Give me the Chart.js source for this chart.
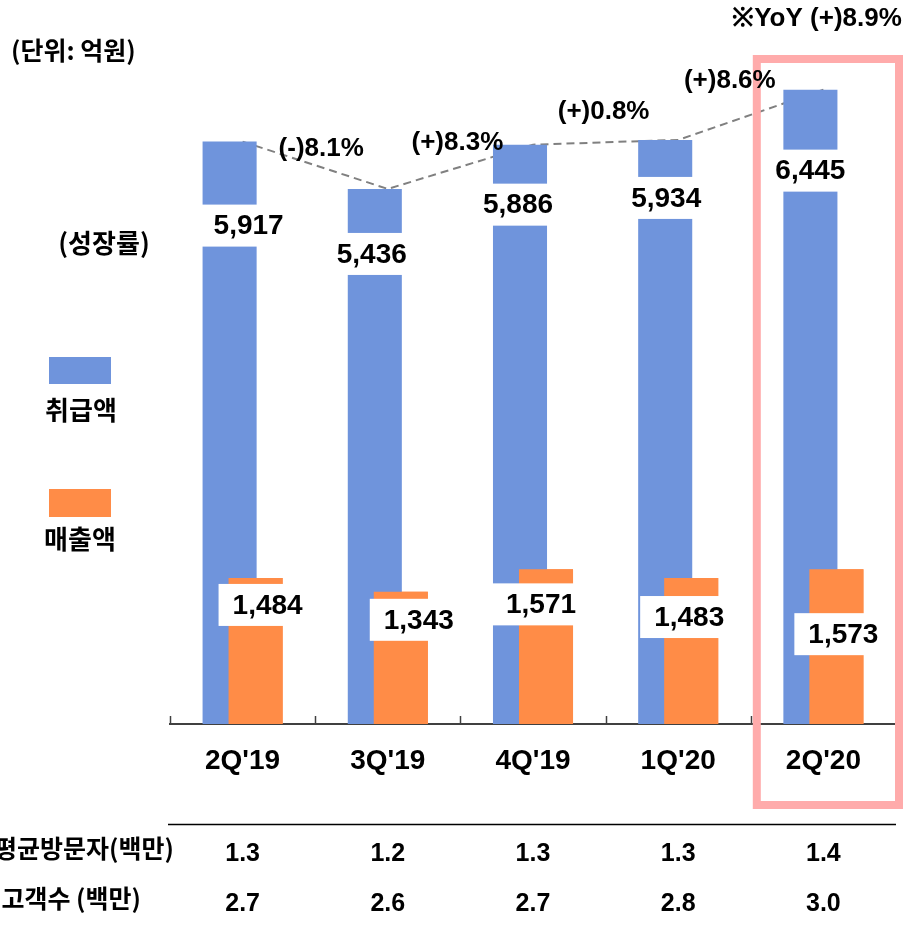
<!DOCTYPE html>
<html><head><meta charset="utf-8">
<script src="https://cdn.jsdelivr.net/npm/chart.js@4.4.1/dist/chart.umd.min.js"></script>
<style>html,body{margin:0;padding:0;background:#fff;}#wrap{position:relative;width:905px;height:926px;}</style>
</head><body><div id="wrap"><canvas id="c" width="905" height="926"></canvas></div>
<script>
// ---- data ----
const categories = ["2Q'19", "3Q'19", "4Q'19", "1Q'20", "2Q'20"];
const grossSales = [5917, 5436, 5886, 5934, 6445];   // 취급액 (억원)
const revenue    = [1484, 1343, 1571, 1483, 1573];   // 매출액 (억원)
const visitors   = ["1.3", "1.2", "1.3", "1.3", "1.4"]; // 평균방문자(백만)
const customers  = ["2.7", "2.6", "2.7", "2.8", "3.0"]; // 고객수 (백만)
const seriesNames = ["취급액", "매출액"];
const rowNames = ["평균방문자(백만)", "고객수 (백만)"];
const yMax = 7000;

// ---- label placement (style) ----
const blueLabelDrop  = [84, 65, 60, 58, 81];
const blueLabelShift = [19, -3, -2, 1, 0];
const orgLabelDrop   = [27, 28, 35, 39, 65];
const orgLabelShift  = [12, 18, -5, -2, 7];
const growthNudge    = [[6, -16], [-3, -24], [-2, -30], [-21, -34]];

const BLUE = '#6F94DC', ORANGE = '#FF8C47', PINK = '#FFABAB';
const NUM = '"Liberation Sans", Arial, sans-serif';
const KR = '"Noto Sans CJK KR", "Noto Sans", sans-serif';
const KRW = 'bold ';

const fmtNum = v => v.toLocaleString('en-US');
const fmtPct = r => (r < 0 ? '(-)' : '(+)') + Math.abs(r * 100).toFixed(1) + '%';
const growth = grossSales.slice(1).map((v, i) => fmtPct(v / grossSales[i] - 1));
const yoy = fmtPct(grossSales[4] / grossSales[0] - 1);

function boxText(ctx, text, cx, cy, font) {
  ctx.font = font;
  const w = ctx.measureText(text).width + 28, h = 42;
  ctx.fillStyle = '#fff';
  ctx.fillRect(cx - w / 2, cy - h / 2, w, h);
  ctx.fillStyle = '#000';
  ctx.textAlign = 'center'; ctx.textBaseline = 'middle';
  ctx.fillText(text, cx, cy + 1);
}
function txt(ctx, text, x, y, font, align) {
  ctx.font = font; ctx.fillStyle = '#000';
  ctx.textAlign = align || 'center'; ctx.textBaseline = 'middle';
  ctx.fillText(text, x, y);
}

// orange bars sit to the right of blue but are painted over them
const orangeOnTop = {
  id: 'orangeOnTop',
  afterDatasetsDraw(chart) {
    const ctx = chart.ctx, a = chart.chartArea;
    ctx.save();
    ctx.beginPath(); ctx.rect(a.left, a.top - 2, a.right - a.left, a.bottom - a.top + 2); ctx.clip();
    chart.getDatasetMeta(1).controller.draw();
    ctx.restore();
  }
};

const overlay = {
  id: 'overlay',
  afterDraw(chart) {
    const ctx = chart.ctx, xs = chart.scales.x, area = chart.chartArea;
    const cw = xs.width / categories.length;
    ctx.save();
    // inner tick marks at category boundaries
    ctx.strokeStyle = '#404040'; ctx.lineWidth = 1.5;
    for (let i = 0; i <= categories.length; i++) {
      const bx = Math.round(xs.left + i * cw) + 0.5;
      ctx.beginPath(); ctx.moveTo(bx, area.bottom); ctx.lineTo(bx, area.bottom - 8); ctx.stroke();
    }
    // highlight box
    const hl = xs.left + 4 * cw;
    ctx.strokeStyle = PINK; ctx.lineWidth = 8;
    ctx.strokeRect(hl + 6, 59, chart.width - 6 - (hl + 6), 746);
    // blue value labels
    chart.getDatasetMeta(0).data.forEach((el, i) => {
      boxText(ctx, fmtNum(grossSales[i]), el.x + blueLabelShift[i], el.y + blueLabelDrop[i], 'bold 28px ' + NUM);
    });
    // orange value labels
    chart.getDatasetMeta(1).data.forEach((el, i) => {
      boxText(ctx, fmtNum(revenue[i]), el.x + orgLabelShift[i], el.y + orgLabelDrop[i], 'bold 28px ' + NUM);
    });
    // growth labels
    const pts = chart.getDatasetMeta(2).data;
    growth.forEach((g, i) => {
      const mx = (pts[i].x + pts[i + 1].x) / 2, my = (pts[i].y + pts[i + 1].y) / 2;
      txt(ctx, g, mx + growthNudge[i][0], my + growthNudge[i][1], 'bold 26px ' + NUM);
    });
    txt(ctx, '※YoY ' + yoy, 817, 19, 'bold 26px ' + NUM);
    // unit / titles
    txt(ctx, '(단위: 억원)', 11, 50, KRW + '25px ' + KR, 'left');
    txt(ctx, '(성장률)', 104, 243, KRW + '26px ' + KR);
    // legend
    ctx.fillStyle = BLUE; ctx.fillRect(49, 357, 62, 27);
    txt(ctx, seriesNames[0], 81, 410, KRW + '26px ' + KR);
    ctx.fillStyle = ORANGE; ctx.fillRect(49, 489, 62, 28);
    txt(ctx, seriesNames[1], 80, 539, KRW + '26px ' + KR);
    // table
    ctx.strokeStyle = '#000'; ctx.lineWidth = 1.5;
    ctx.beginPath(); ctx.moveTo(168, 824.5); ctx.lineTo(xs.right, 824.5); ctx.stroke();
    txt(ctx, rowNames[0], 174, 848, KRW + '25px ' + KR, 'right');
    txt(ctx, rowNames[1], 141, 898, KRW + '25px ' + KR, 'right');
    categories.forEach((c, i) => {
      const cx = xs.getPixelForValue(i);
      txt(ctx, visitors[i], cx, 854, 'bold 25px ' + NUM);
      txt(ctx, customers[i], cx, 904, 'bold 25px ' + NUM);
    });
    ctx.restore();
  }
};

new Chart(document.getElementById('c'), {
  type: 'bar',
  data: {
    labels: categories,
    datasets: [
      { label: seriesNames[0], data: grossSales, backgroundColor: BLUE, order: 1,
        categoryPercentage: 0.358, barPercentage: 2.08 },
      { label: seriesNames[1], data: revenue, backgroundColor: ORANGE, order: 2,
        categoryPercentage: 0.358, barPercentage: 2.08 },
      { type: 'line', label: 'growth', data: grossSales, borderColor: '#808080', borderWidth: 2,
        borderDash: [8, 5], pointRadius: 0, fill: false, tension: 0, order: 3 }
    ]
  },
  options: {
    responsive: false, animation: false, devicePixelRatio: 1,
    layout: { padding: { left: 170, right: 9, top: 35, bottom: 0 } },
    plugins: { legend: { display: false }, tooltip: { enabled: false } },
    scales: {
      x: {
        grid: { display: false, drawTicks: false },
        border: { display: true, color: '#404040', width: 2 },
        ticks: { color: '#000', font: { family: NUM, size: 28, weight: 'bold' }, padding: 20 },
        afterFit(s) { s.height = 202; }
      },
      y: { display: false, min: 0, max: yMax }
    }
  },
  plugins: [orangeOnTop, overlay]
});
</script></body></html>
